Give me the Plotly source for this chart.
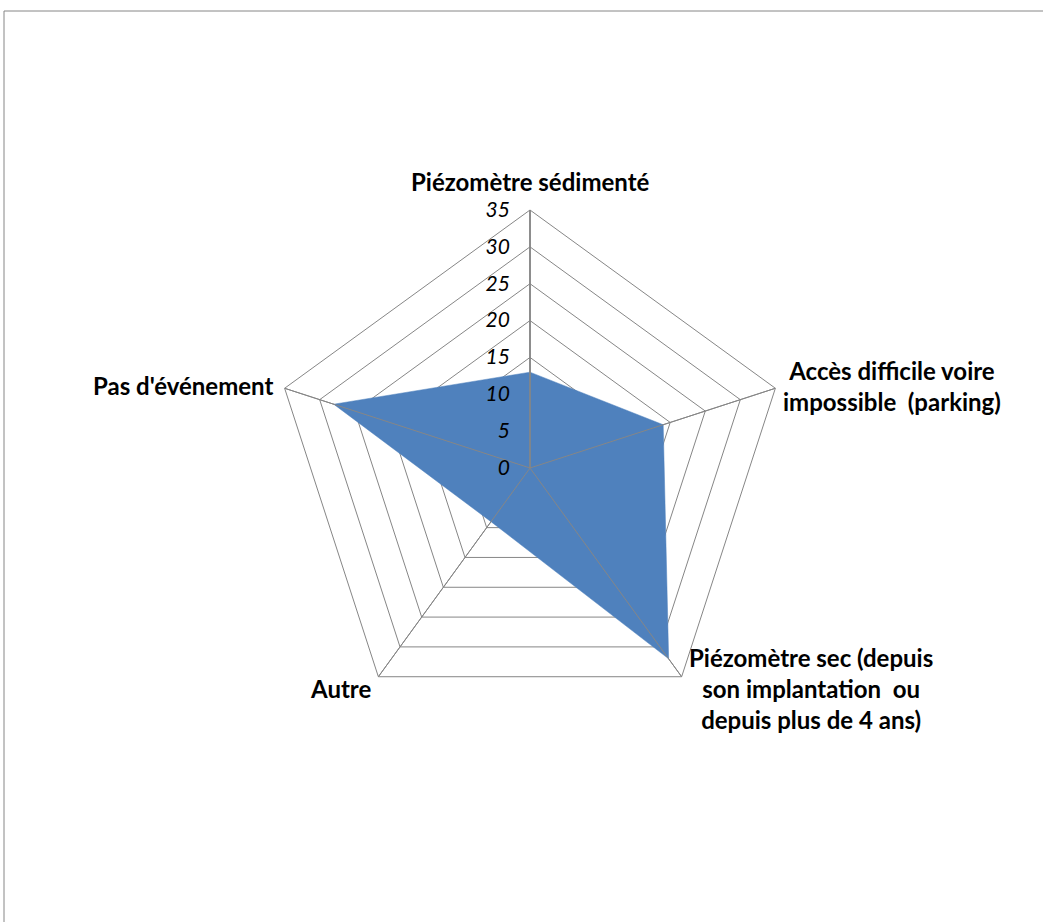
import math
import plotly.graph_objects as go

categories = [
    "Piézomètre sédimenté",
    "Accès difficile voire<br>impossible  (parking)",
    "Piézomètre sec (depuis<br>son implantation  ou<br>depuis plus de 4 ans)",
    "Autre",
    "Pas d'événement",
]
values = [13, 19, 32, 9, 28]
radial_ticks = [0, 5, 10, 15, 20, 25, 30, 35]
r_max = 35

W, H = 1043, 922
cx, cy, R = 530, 468, 258
GRID = "#868686"
FONT = "Lato"

# label placement (pixel offsets from each outer vertex, anchors)
label_style = [
    dict(dx=0, dy=-29, xanchor="center", yanchor="middle"),
    dict(dx=6, dy=-2, xanchor="left", yanchor="middle"),
    dict(dx=5, dy=12, xanchor="left", yanchor="middle"),
    dict(dx=-5, dy=12, xanchor="right", yanchor="middle"),
    dict(dx=-10, dy=-3, xanchor="right", yanchor="middle"),
]

fig = go.Figure()
fig.add_trace(go.Scatterpolar(
    r=values + [values[0]], theta=categories + [categories[0]],
    fill="toself", fillcolor="#4F81BD", mode="lines",
    line=dict(color="#4F81BD", width=0.5), hoverinfo="skip",
))
for c in categories:
    fig.add_trace(go.Scatterpolar(
        r=[0, r_max], theta=[c, c], mode="lines",
        line=dict(color=GRID, width=1), hoverinfo="skip",
    ))

annotations = []
n = len(categories)
for i, (cat, st) in enumerate(zip(categories, label_style)):
    ang = math.radians(90 - 360 * i / n)
    vx = cx + R * math.cos(ang)
    vy = cy - R * math.sin(ang)
    annotations.append(dict(
        text=cat, xref="paper", yref="paper",
        x=(vx + st["dx"]) / W, y=1 - (vy + st["dy"]) / H,
        xanchor=st["xanchor"], yanchor=st["yanchor"], align="center",
        showarrow=False,
        font=dict(family=FONT, size=24, color="black", weight="bold"),
    ))

fig.update_layout(
    width=W, height=H,
    margin=dict(l=0, r=0, t=0, b=0),
    paper_bgcolor="white",
    showlegend=False,
    annotations=annotations,
    polar=dict(
        domain=dict(x=[(cx - R) / W, (cx + R) / W],
                    y=[(H - cy - R) / H, (H - cy + R) / H]),
        gridshape="linear",
        bgcolor="white",
        angularaxis=dict(
            direction="clockwise", rotation=90,
            showline=True, linecolor=GRID, linewidth=1,
            showgrid=True, gridcolor=GRID,
            ticks="", showticklabels=False,
        ),
        radialaxis=dict(
            range=[0, r_max], tickvals=radial_ticks, angle=90,
            side="counterclockwise", tickangle=90,
            showline=True, linecolor=GRID, linewidth=1.5,
            gridcolor=GRID, gridwidth=1,
            ticks="outside", ticklen=12, tickcolor="rgba(0,0,0,0)",
            layer="above traces",
            tickfont=dict(family=FONT, size=21, color="black", style="italic"),
        ),
    ),
    shapes=[dict(type="rect", xref="paper", yref="paper",
                 x0=4 / W, x1=1.01, y0=-0.01, y1=1 - 11 / H,
                 line=dict(color=GRID, width=1), fillcolor="rgba(0,0,0,0)")],
)

fig.write_html("out.html")
